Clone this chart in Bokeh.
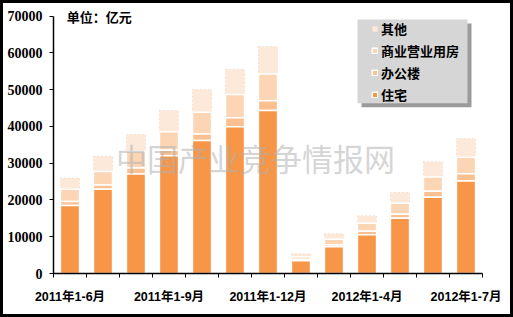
from bokeh.plotting import figure
from bokeh.models import (Range1d, FixedTicker, Legend, LegendItem, Label, BoxAnnotation)
from bokeh.embed import file_html
from bokeh.resources import INLINE

# ---- data ----
categories = ["2011年1-6月", "2011年1-7月", "2011年1-8月", "2011年1-9月", "2011年1-10月",
              "2011年1-11月", "2011年1-12月", "2012年1-2月", "2012年1-3月", "2012年1-4月",
              "2012年1-5月", "2012年1-6月", "2012年1-7月"]
residential = [18500, 22950, 27050, 32050, 36150, 39890, 44340, 3450, 7270, 10550, 15030, 20770, 25140]
office      = [1060, 1090, 1640, 1450, 1830, 2460, 2650, 380, 460, 930, 1090, 1630, 1990]
commercial  = [3390, 3720, 4530, 5030, 5900, 6370, 7290, 710, 1560, 2160, 3010, 3830, 4460]
others      = [3010, 4100, 4570, 5810, 6200, 6830, 7470, 820, 1530, 2100, 2900, 4180, 5100]
labeled_idx = [0, 3, 6, 9, 12]
series_names = ["住宅", "办公楼", "商业营业用房", "其他"]
colors = ["#F79646", "#FAC090", "#FCD5B5", "#FDE9D9"]
unit_text = "单位：亿元"
watermark = "中国产业竞争情报网"

x = list(range(len(categories)))
b1 = residential
b2 = [a + b for a, b in zip(b1, office)]
b3 = [a + b for a, b in zip(b2, commercial)]
b4 = [a + b for a, b in zip(b3, others)]

p = figure(width=513, height=317, output_backend="svg", toolbar_location=None,
           x_range=Range1d(-0.5, len(categories) - 0.5), y_range=Range1d(0, 72900),
           min_border_left=50, min_border_right=34, min_border_top=2, min_border_bottom=47)
p.styles = {"border": "3px solid black"}
p.outline_line_color = None
p.xgrid.grid_line_color = None
p.ygrid.grid_line_color = None
p.background_fill_color = "white"
p.border_fill_color = "white"

W = 0.58
r_oth = p.vbar(x=x, bottom=b3, top=b4, width=W, fill_color=colors[3],
               line_color="#efd3c3", line_dash="1 3", line_width=1)
r_com = p.vbar(x=x, bottom=b2, top=b3, width=W, fill_color=colors[2], line_color="white", line_width=1.5)
r_off = p.vbar(x=x, bottom=b1, top=b2, width=W, fill_color=colors[1], line_color="white", line_width=1.5)
r_res = p.vbar(x=x, bottom=0, top=b1, width=W, fill_color=colors[0], line_color="white", line_width=1.5)

# watermark
p.add_layout(Label(x=5.62, y=31500, text=watermark, text_align="center", text_baseline="middle",
                   text_font="Noto Sans CJK SC", text_font_size="31px", text_color="#b0b0b0",
                   text_alpha=0.55))

# axes
p.yaxis.ticker = FixedTicker(ticks=list(range(0, 70001, 10000)))
p.yaxis.bounds = (0, 70000)
p.yaxis.axis_line_width = 1.5
p.yaxis.major_tick_out = 4
p.yaxis.major_tick_in = 0
p.yaxis.minor_tick_line_color = None
p.yaxis.major_label_standoff = 7
p.yaxis.major_label_text_font = "Liberation Serif"
p.yaxis.major_label_text_font_style = "bold"
p.yaxis.major_label_text_font_size = "14px"
p.yaxis.major_label_text_color = "black"

p.xaxis.ticker = FixedTicker(ticks=labeled_idx, minor_ticks=[i - 0.5 for i in range(len(categories) + 1)])
p.xaxis.major_label_overrides = {i: categories[i] for i in labeled_idx}
p.xaxis.axis_line_width = 1.5
p.xaxis.major_tick_line_color = None
p.xaxis.major_tick_out = 0
p.xaxis.major_tick_in = 0
p.xaxis.minor_tick_out = 4
p.xaxis.minor_tick_in = 0
p.xaxis.minor_tick_line_color = "black"
p.xaxis.major_label_standoff = 12
p.xaxis.major_label_text_font = "'Liberation Sans', 'Noto Sans CJK SC'"
p.xaxis.major_label_text_font_style = "bold"
p.xaxis.major_label_text_font_size = "12.5px"
p.xaxis.major_label_text_color = "black"

# unit text
p.add_layout(Label(x=-0.1, y=70000, text=unit_text, text_baseline="middle", text_align="left",
                   text_font="Noto Sans CJK SC", text_font_style="bold", text_font_size="13px",
                   text_color="black"))

# legend box and shadow
p.add_layout(BoxAnnotation(left=8.833, right=12.167, top=68020, bottom=45190,
                           fill_color="#707070", fill_alpha=0.7, line_color=None, level="annotation"))
p.add_layout(BoxAnnotation(left=8.712, right=12.045, top=69100, bottom=46280,
                           fill_color="#d6d6d6", fill_alpha=1.0, line_color=None, level="annotation"))

legend = Legend(items=[LegendItem(label=series_names[3], renderers=[r_oth]),
                       LegendItem(label=series_names[2], renderers=[r_com]),
                       LegendItem(label=series_names[1], renderers=[r_off]),
                       LegendItem(label=series_names[0], renderers=[r_res])],
                location=(318, 169), padding=0, spacing=3, margin=0,
                glyph_width=7, glyph_height=7, label_height=15, label_standoff=3,
                label_text_font="Noto Sans CJK SC", label_text_font_style="bold",
                label_text_font_size="13px", label_text_color="black",
                background_fill_alpha=0, border_line_color=None)
p.add_layout(legend)

open("out.html", "w").write(file_html(p, INLINE))
